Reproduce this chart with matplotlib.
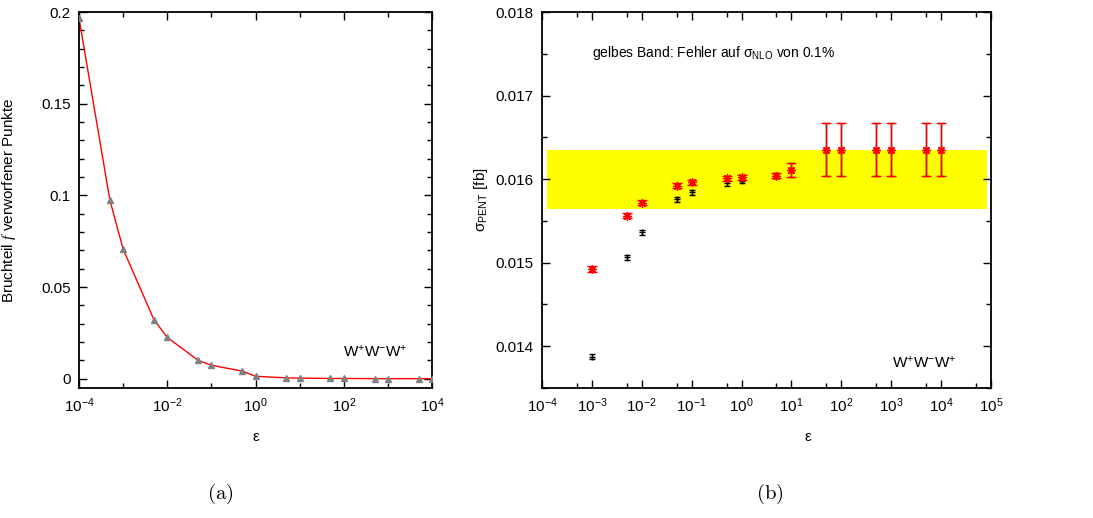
import matplotlib
matplotlib.use("Agg")
import matplotlib.pyplot as plt
from matplotlib.ticker import (FixedLocator, FuncFormatter, LogFormatterSciNotation,
                               NullFormatter)

plt.rcParams["font.family"] = ["Liberation Sans", "DejaVu Sans"]
plt.rcParams["font.size"] = 11
plt.rcParams["mathtext.fontset"] = "custom"
plt.rcParams["mathtext.rm"] = "Liberation Sans"
plt.rcParams["mathtext.it"] = "Liberation Serif:italic"
plt.rcParams["mathtext.bf"] = "Liberation Sans:bold"

# (a) fraction of rejected points vs epsilon
eps_a = [1e-4, 5e-4, 1e-3, 5e-3, 1e-2, 5e-2, 1e-1, 5e-1, 1, 5, 10,
         50, 100, 500, 1000, 5000, 1e4]
frac_rejected = [0.1967, 0.0975, 0.0707, 0.0322, 0.0226, 0.0101, 0.0074,
                 0.0042, 0.0014, 0.0005, 0.0004, 0.0002, 0.0002, 0.0001,
                 0.0001, 0.0001, 0.0001]

# (b) cross section vs epsilon, two evaluations
eps_b = [1e-3, 5e-3, 1e-2, 5e-2, 1e-1, 5e-1, 1, 5, 10,
         50, 100, 500, 1000, 5000, 1e4]
sigma_red = [0.014926, 0.015560, 0.015716, 0.015920, 0.015960, 0.016010,
             0.016020, 0.016040, 0.016110, 0.016351, 0.016351, 0.016351,
             0.016351, 0.016351, 0.016351]
err_red = [0.00004, 0.00003, 0.00003, 0.00003, 0.00003, 0.00003, 0.00003,
           0.00003, 0.00008, 0.000315, 0.000315, 0.000315, 0.000315,
           0.000315, 0.000315]
sigma_black = [0.013872, 0.015062, 0.015362, 0.015760, 0.015844, 0.015950,
               0.015980, 0.016040, 0.016110, 0.016351, 0.016351, 0.016351,
               0.016351, 0.016351, 0.016351]
err_black = [0.00003, 0.00003, 0.00003, 0.00003, 0.00003, 0.00003, 0.00003,
             0.00003, 0.00008, 0.000315, 0.000315, 0.000315, 0.000315,
             0.000315, 0.000315]

# yellow band: sigma_NLO error range
band_x = [1.26e-4, 8.3e4]
band_lo = 0.015641
band_hi = 0.016347

W = 1093
H = 518
fig = plt.figure(figsize=(W / 100, H / 100), dpi=100)

ax_a = fig.add_axes([79 / W, 1 - 388 / H, (432 - 79) / W, (388 - 12) / H])
ax_b = fig.add_axes([542 / W, 1 - 388 / H, (991 - 542) / W, (388 - 12) / H])

# gnuplot-like asterisk: "+" and "x" on top of each other
asterisk = (8, 2, 0)


def style_axes(ax):
    for sp in ax.spines.values():
        sp.set_linewidth(1.3)
    ax.tick_params(which="both", direction="in", top=True, right=True,
                   width=1.0, pad=6)
    ax.tick_params(which="major", length=6)
    ax.tick_params(which="minor", length=3.5)
    ax.xaxis.set_major_formatter(LogFormatterSciNotation())
    ax.xaxis.set_minor_formatter(NullFormatter())


# ---- panel (a)
ax_a.plot(eps_a, frac_rejected, color="red", lw=1.0, zorder=2)
ax_a.plot(eps_a, frac_rejected, ls="none", marker="^", ms=5,
          color="#808080", zorder=3)
ax_a.set_xscale("log")
ax_a.set_xlim(1e-4, 1e4)
ax_a.set_ylim(-0.005, 0.2)
ax_a.xaxis.set_major_locator(FixedLocator([1e-4, 1e-2, 1e0, 1e2, 1e4]))
ax_a.xaxis.set_minor_locator(FixedLocator([1e-3, 1e-1, 1e1, 1e3]))
ax_a.yaxis.set_major_locator(FixedLocator([0, 0.05, 0.1, 0.15, 0.2]))
ax_a.yaxis.set_minor_locator(FixedLocator([i * 0.01 for i in range(21)]))
ax_a.yaxis.set_major_formatter(FuncFormatter(lambda v, p: "%g" % round(v, 3)))
style_axes(ax_a)
ax_a.set_xlabel("ε")
ax_a.xaxis.set_label_coords(0.5, -0.112)
ax_a.set_ylabel("Bruchteil $f$ verworfener Punkte")
ax_a.yaxis.set_label_coords(-0.173, 0.5)
ax_a.text(0.748, 0.093, "W$^{+}$W$^{-}$W$^{+}$", transform=ax_a.transAxes,
          ha="left", va="center", fontsize=11)

# ---- panel (b)
ax_b.fill_between(band_x, band_lo, band_hi, color="#ffff00", lw=0, zorder=1)
ax_b.errorbar(eps_b, sigma_black, yerr=err_black, fmt="+", color="black",
              ms=5, mew=1.0, elinewidth=1.0, capsize=2.5, capthick=1.0,
              zorder=3)
ax_b.errorbar(eps_b, sigma_red, yerr=err_red, fmt="none", ecolor="red",
              elinewidth=1.0, capsize=3.5, capthick=1.0, zorder=4)
ax_b.plot(eps_b, sigma_red, ls="none", marker=asterisk, ms=6, mew=1.0,
          color="red", zorder=5)
ax_b.set_xscale("log")
ax_b.set_xlim(1e-4, 1e5)
ax_b.set_ylim(0.0135, 0.018)
ax_b.xaxis.set_major_locator(FixedLocator([10.0 ** k for k in range(-4, 6)]))
ax_b.xaxis.set_minor_locator(FixedLocator([5 * 10.0 ** k for k in range(-4, 5)]))
ax_b.yaxis.set_major_locator(FixedLocator([0.014, 0.015, 0.016, 0.017, 0.018]))
ax_b.yaxis.set_minor_locator(FixedLocator([0.0135 + 0.0005 * i for i in range(10)]))
ax_b.yaxis.set_major_formatter(FuncFormatter(lambda v, p: "%.3f" % v))
style_axes(ax_b)
ax_b.set_xlabel("ε")
ax_b.xaxis.set_label_coords(0.593, -0.112)
ax_b.set_ylabel("σ$_{\\mathrm{PENT}}$ [fb]")
ax_b.yaxis.set_label_coords(-0.116, 0.5)
ax_b.text(0.111, 0.891, "gelbes Band: Fehler auf σ$_{\\mathrm{NLO}}$ von 0.1%",
          transform=ax_b.transAxes, ha="left", va="center", fontsize=10)
ax_b.text(0.78, 0.064, "W$^{+}$W$^{-}$W$^{+}$", transform=ax_b.transAxes,
          ha="left", va="center", fontsize=11)

# subfigure captions
fig.text(220 / W, 1 - 494 / H, "$\\mathrm{(a)}$", ha="center", va="center",
         fontsize=15, math_fontfamily="cm")
fig.text(770 / W, 1 - 494 / H, "$\\mathrm{(b)}$", ha="center", va="center",
         fontsize=15, math_fontfamily="cm")

fig.savefig("out.png", dpi=100)
